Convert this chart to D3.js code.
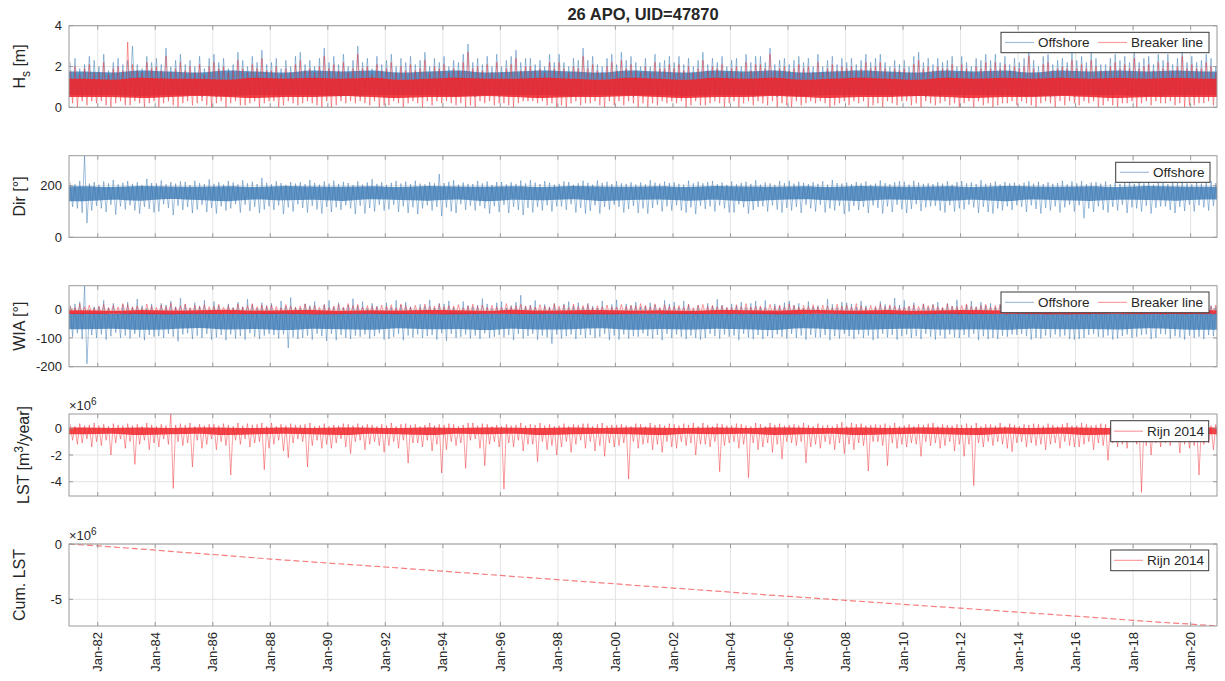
<!DOCTYPE html>
<html>
<head>
<meta charset="utf-8">
<script src="https://cdn.jsdelivr.net/npm/d3@7"></script>
<style>
  body { margin: 0; background: #fff; }
  text { font-family: "Liberation Sans", Arial, Helvetica, sans-serif; fill: #262626; }
</style>
</head>
<body>
<svg id="chart" width="1225" height="681"></svg>
<script>
// ---------------------------------------------------------------------------
// Data: two-monthly extremes (peak / trough, 6 per year, 1981-2020),
// yearly core bands (where most of the hourly samples sit) and the
// cumulative longshore transport at 1 January of each year.
// ---------------------------------------------------------------------------
const title = "26 APO, UID=47870";
const startYear = 1981;
const binsPerYear = 6;
const xTickYears = d3.range(1982, 2021, 2);
const xTickLabels = xTickYears.map(y => "Jan-" + String(y).slice(2));

// Significant wave height [m]
const hsOffPeak = [
2.2,2.4,1.9,2.1,2.5,2.3, 2.0,2.6,1.8,2.2,2.4,2.1, 2.3,3.0,2.1,1.9,2.5,2.2, 2.4,2.1,2.9,2.0,2.3,2.6,
2.1,2.3,2.0,2.5,1.9,2.4, 2.6,2.2,2.4,1.9,2.1,2.7, 2.3,2.0,2.5,2.2,2.8,2.1, 2.2,2.4,1.9,2.3,2.0,2.5,
2.7,2.1,2.3,2.0,2.4,2.9, 2.2,2.5,2.1,2.6,2.0,2.3, 3.0,2.2,2.4,1.9,2.5,2.1, 2.3,2.6,2.0,2.4,2.2,2.5,
2.1,2.3,2.7,2.0,2.4,2.2, 2.5,2.0,2.3,2.2,2.6,3.1, 2.2,2.4,2.1,2.5,2.0,2.6, 2.0,2.3,2.5,2.8,2.2,2.4,
2.4,2.1,2.3,2.0,2.6,2.2, 2.6,2.2,2.0,2.4,2.3,2.9, 2.3,2.5,2.1,2.0,2.4,2.6, 2.1,2.7,2.3,2.5,2.2,2.0,
2.4,2.0,2.6,2.2,2.3,2.5, 2.2,2.5,2.1,2.4,2.0,2.3, 2.7,2.1,2.4,2.2,2.5,2.0, 2.3,2.4,2.0,2.6,2.2,2.5,
2.5,2.2,2.9,2.1,2.3,2.4, 2.1,2.3,2.5,2.2,2.4,2.0, 2.6,2.0,2.3,2.5,2.1,2.4, 2.2,2.4,2.1,2.3,2.6,2.2,
2.4,2.6,2.2,2.0,2.3,2.1, 2.3,2.0,2.5,2.7,2.2,2.4, 2.1,2.4,2.2,2.3,2.5,2.0, 2.5,2.2,2.0,2.4,2.3,2.6,
2.3,2.6,2.2,2.5,2.1,2.4, 2.2,2.4,2.9,2.3,2.0,2.5, 2.6,2.1,2.3,2.4,2.2,2.7, 2.3,2.5,2.2,2.7,2.4,2.1,
2.1,2.4,2.6,2.3,2.5,2.2, 2.8,2.2,2.4,2.5,2.1,2.6, 2.3,2.6,2.1,2.4,2.9,2.2, 2.5,2.2,2.3,2.6,2.4,2.0];
const hsOffTrough = [
0.6,0.7,0.5,0.8,0.6,0.7, 0.5,0.6,0.8,0.7,0.6,0.5, 0.7,0.5,0.6,0.6,0.8,0.7, 0.6,0.8,0.5,0.7,0.6,0.6,
0.8,0.6,0.7,0.5,0.7,0.6, 0.5,0.7,0.6,0.8,0.5,0.7, 0.7,0.6,0.8,0.6,0.5,0.8, 0.6,0.5,0.7,0.7,0.6,0.5,
0.8,0.7,0.6,0.5,0.7,0.6, 0.6,0.6,0.5,0.8,0.7,0.7, 0.5,0.8,0.7,0.6,0.6,0.5, 0.7,0.6,0.6,0.7,0.8,0.6,
0.6,0.5,0.8,0.6,0.5,0.7, 0.8,0.7,0.5,0.7,0.6,0.6, 0.5,0.6,0.7,0.8,0.7,0.5, 0.7,0.8,0.6,0.5,0.6,0.7,
0.6,0.5,0.7,0.6,0.8,0.6, 0.7,0.6,0.5,0.7,0.6,0.8, 0.5,0.7,0.8,0.6,0.5,0.6, 0.8,0.6,0.6,0.5,0.7,0.7,
0.6,0.7,0.5,0.8,0.6,0.5, 0.7,0.5,0.6,0.6,0.8,0.7, 0.5,0.8,0.7,0.6,0.7,0.6, 0.6,0.6,0.8,0.7,0.5,0.6,
0.8,0.7,0.6,0.5,0.6,0.8, 0.7,0.5,0.6,0.7,0.8,0.6, 0.6,0.8,0.5,0.6,0.7,0.5, 0.5,0.6,0.7,0.8,0.6,0.7,
0.7,0.6,0.8,0.5,0.6,0.6, 0.6,0.7,0.6,0.7,0.5,0.8, 0.8,0.5,0.7,0.6,0.7,0.6, 0.5,0.7,0.6,0.8,0.6,0.5,
0.7,0.6,0.5,0.6,0.8,0.7, 0.6,0.8,0.7,0.5,0.6,0.6, 0.5,0.6,0.8,0.7,0.7,0.5, 0.8,0.7,0.6,0.6,0.5,0.7,
0.6,0.5,0.7,0.8,0.6,0.6, 0.7,0.6,0.5,0.6,0.8,0.5, 0.6,0.8,0.6,0.7,0.5,0.7, 0.5,0.7,0.8,0.6,0.6,0.6];
const hsOffCoreLo = [0.6,0.6,0.55,0.6,0.6,0.55,0.6,0.6,0.6,0.55,0.6,0.6,0.6,0.55,0.6,0.6,0.6,0.55,0.6,0.6,0.6,0.55,0.6,0.6,0.6,0.55,0.6,0.6,0.6,0.55,0.6,0.6,0.6,0.55,0.6,0.6,0.6,0.55,0.6,0.6];
const hsOffCoreHi = [1.75,1.7,1.8,1.75,1.7,1.8,1.75,1.7,1.8,1.75,1.8,1.7,1.75,1.8,1.7,1.75,1.8,1.75,1.7,1.8,1.75,1.7,1.8,1.75,1.8,1.7,1.75,1.8,1.75,1.7,1.8,1.75,1.8,1.7,1.8,1.75,1.8,1.75,1.8,1.75];
const hsBrkPeak = [
1.8,2.0,1.6,1.9,2.1,1.7, 1.7,2.2,1.6,1.9,2.0,1.8, 3.2,2.1,1.8,1.7,2.2,1.9, 2.0,1.8,2.5,1.7,1.9,2.2,
1.8,2.0,1.7,2.1,1.6,2.0, 2.2,1.9,2.0,1.7,1.8,2.3, 1.9,1.7,2.1,1.9,2.4,1.8, 1.8,2.0,1.6,1.9,1.7,2.1,
2.3,1.8,1.9,1.7,2.0,2.5, 1.9,2.1,1.8,2.2,1.7,1.9, 2.6,1.9,2.0,1.6,2.1,1.8, 1.9,2.2,1.7,2.0,1.8,2.1,
1.8,1.9,2.3,1.7,2.0,1.9, 2.1,1.7,1.9,1.8,2.2,2.7, 1.9,2.0,1.8,2.1,1.7,2.2, 1.7,1.9,2.1,2.4,1.8,2.0,
2.0,1.8,1.9,1.7,2.2,1.9, 2.2,1.9,1.7,2.0,1.9,2.5, 1.9,2.1,1.8,1.7,2.0,2.2, 1.8,2.3,1.9,2.1,1.8,1.7,
2.0,1.7,2.2,1.9,1.9,2.1, 1.9,2.1,1.8,2.0,1.7,1.9, 2.3,1.8,2.0,1.9,2.1,1.7, 1.9,2.0,1.7,2.2,1.8,2.1,
2.1,1.9,2.6,1.8,1.9,2.0, 1.8,1.9,2.1,1.9,2.0,1.7, 2.2,1.7,1.9,2.1,1.8,2.0, 1.9,2.0,1.8,1.9,2.2,1.9,
2.0,2.2,1.9,1.7,1.9,1.8, 1.9,1.7,2.1,2.3,1.9,2.0, 1.8,2.0,1.9,1.9,2.1,1.7, 2.1,1.9,1.7,2.0,1.9,2.2,
1.9,2.2,1.9,2.1,1.8,2.0, 1.9,2.0,2.5,1.9,1.7,2.1, 2.2,1.8,1.9,2.0,1.9,2.3, 1.9,2.1,1.9,2.3,2.0,1.8,
1.8,2.0,2.2,1.9,2.1,1.9, 2.4,1.9,2.0,2.1,1.8,2.2, 1.9,2.2,1.8,2.0,2.5,1.9, 2.1,1.9,1.9,2.2,2.0,1.7];
const hsBrkTrough = [
0.2,0.0,0.3,0.1,0.3,0.2, 0.3,0.1,0.0,0.2,0.3,0.1, 0.1,0.3,0.2,0.0,0.2,0.3, 0.0,0.2,0.3,0.1,0.0,0.2,
0.3,0.1,0.2,0.3,0.1,0.0, 0.2,0.3,0.0,0.2,0.3,0.1, 0.1,0.2,0.3,0.0,0.2,0.3, 0.3,0.0,0.1,0.3,0.2,0.1,
0.2,0.3,0.2,0.1,0.0,0.3, 0.0,0.1,0.3,0.2,0.3,0.2, 0.3,0.2,0.1,0.3,0.0,0.1, 0.1,0.3,0.2,0.0,0.2,0.3,
0.2,0.0,0.3,0.1,0.3,0.2, 0.3,0.2,0.1,0.2,0.0,0.1, 0.0,0.3,0.2,0.3,0.1,0.2, 0.2,0.1,0.0,0.2,0.3,0.3,
0.3,0.2,0.3,0.1,0.2,0.0, 0.1,0.0,0.2,0.3,0.1,0.2, 0.2,0.3,0.1,0.0,0.3,0.1, 0.3,0.1,0.3,0.2,0.0,0.2,
0.0,0.2,0.1,0.3,0.2,0.3, 0.2,0.3,0.0,0.1,0.3,0.1, 0.1,0.2,0.3,0.2,0.0,0.2, 0.3,0.0,0.2,0.3,0.1,0.3,
0.2,0.1,0.3,0.0,0.2,0.1, 0.0,0.3,0.1,0.2,0.3,0.2, 0.3,0.2,0.0,0.1,0.2,0.3, 0.1,0.3,0.2,0.3,0.0,0.1,
0.2,0.0,0.3,0.2,0.1,0.3, 0.3,0.1,0.2,0.0,0.3,0.2, 0.1,0.2,0.3,0.1,0.2,0.0, 0.2,0.3,0.0,0.3,0.1,0.2,
0.0,0.1,0.2,0.2,0.3,0.1, 0.3,0.2,0.1,0.0,0.2,0.3, 0.2,0.0,0.3,0.1,0.3,0.2, 0.1,0.3,0.2,0.3,0.0,0.1,
0.3,0.1,0.0,0.2,0.2,0.3, 0.0,0.2,0.3,0.1,0.3,0.2, 0.2,0.3,0.1,0.2,0.0,0.1, 0.1,0.2,0.2,0.3,0.1,0.3];
const hsBrkCoreLo = [0.5,0.5,0.45,0.5,0.55,0.5,0.45,0.5,0.5,0.55,0.5,0.45,0.5,0.5,0.55,0.5,0.45,0.5,0.5,0.55,0.5,0.45,0.5,0.5,0.55,0.5,0.45,0.5,0.5,0.55,0.5,0.45,0.5,0.5,0.55,0.5,0.45,0.5,0.5,0.5];
const hsBrkCoreHi = [1.4,1.35,1.45,1.4,1.4,1.35,1.45,1.4,1.45,1.4,1.45,1.35,1.4,1.45,1.4,1.4,1.45,1.4,1.35,1.45,1.4,1.35,1.45,1.4,1.45,1.35,1.4,1.45,1.4,1.35,1.45,1.4,1.45,1.4,1.45,1.4,1.45,1.4,1.45,1.4];

// Offshore wave direction [deg]
const dirPeak = [
212,206,218,316,208,214, 204,216,209,222,205,211, 218,207,213,203,226,210, 209,220,205,214,208,217,
215,203,219,210,206,224, 207,213,204,218,212,205, 221,209,215,206,230,211, 205,217,210,203,214,208,
213,206,222,211,204,216, 208,219,207,215,210,203, 216,204,212,225,207,213, 203,211,218,208,216,206,
219,208,205,214,209,245, 210,215,221,204,212,207, 206,218,209,216,203,214, 214,205,213,207,220,209,
222,212,206,218,211,204, 207,216,214,203,209,219, 211,204,220,210,215,206, 217,209,207,213,204,212,
205,221,212,208,216,210, 213,207,204,219,209,215, 209,214,218,206,212,203, 216,205,211,215,207,221,
204,212,209,203,218,210, 219,208,215,211,206,213, 207,217,204,222,210,208, 212,206,214,209,216,204,
208,220,210,205,213,217, 215,204,219,212,207,209, 206,213,208,217,204,214, 218,209,212,206,221,207,
210,216,205,214,209,212, 204,211,217,208,215,206, 213,207,210,219,205,216, 209,218,206,212,214,208,
216,205,213,207,210,220, 207,214,209,216,204,211, 212,206,218,210,215,209, 205,213,208,214,217,210];
const dirTrough = [
118,112,95,55,104,122, 112,98,126,88,120,108, 124,104,92,118,110,96, 100,128,114,86,122,106,
118,94,108,126,98,114, 92,120,104,112,128,96, 126,102,118,94,108,120, 106,124,90,116,100,128,
114,96,122,108,92,118, 98,116,106,124,112,90, 122,92,114,100,126,104, 108,126,98,120,94,116,
90,112,124,104,118,82, 116,100,94,128,106,122, 104,122,112,92,120,98, 126,94,118,106,86,114,
96,118,104,124,100,120, 120,106,128,96,114,92, 102,124,92,118,108,126, 118,96,110,122,94,112,
92,114,126,100,120,104, 124,104,96,116,90,122, 110,120,100,124,112,96, 96,128,116,92,106,118,
120,100,124,108,96,114, 104,118,94,126,112,100, 126,96,112,104,122,90, 100,122,106,118,94,124,
114,92,120,98,126,108, 94,110,128,102,116,120, 122,104,96,124,100,112, 108,126,116,94,118,98,
92,112,104,120,106,124, 118,98,124,110,92,114, 104,120,96,116,126,100, 124,74,112,98,120,106,
96,118,104,126,94,116, 112,100,122,92,114,120, 120,106,94,118,102,126, 100,124,116,104,122,110];
const dirCoreLo = [140,145,142,148,144,140,146,143,145,141,147,144,142,146,140,145,143,147,141,144,146,142,145,140,144,147,143,141,146,144,142,145,140,146,143,141,145,144,142,146];
const dirCoreHi = [198,195,199,197,196,198,195,199,197,196,198,195,199,197,196,198,195,199,197,196,198,195,199,197,196,198,195,199,197,196,198,195,199,197,196,198,195,199,197,196];

// Wave incidence angle [deg]
const wiaOffPeak = [
12,18,25,80,-2,8, 10,30,4,20,-5,15, 24,6,35,12,2,18, -4,20,14,28,8,38,
16,2,22,10,30,-2, 26,12,-6,18,6,24, 8,34,16,2,22,12, 20,-3,28,10,40,6,
4,18,12,26,-2,16, 30,8,22,4,14,36, 12,26,2,20,10,-4, 22,6,30,14,24,8,
-2,16,10,32,4,20, 18,28,6,-5,26,12, 8,14,36,18,2,22, 26,4,12,24,48,10,
14,30,-2,16,8,20, 2,18,26,10,22,6, 20,10,4,28,-3,16, 32,-4,18,12,24,8,
10,22,14,2,30,18, 24,6,28,16,-2,12, -6,20,10,34,14,4, 18,12,24,6,20,28,
6,30,-4,18,10,22, 28,14,20,2,26,8, 12,-2,34,16,6,24, 22,18,8,28,12,-4,
4,26,16,10,38,14, 30,8,22,-2,18,6, 16,24,4,20,10,32, -3,14,28,8,24,12,
20,6,16,30,2,18, 10,26,-4,14,22,8, 24,12,20,6,28,-2, 8,32,14,18,4,26,
18,2,24,12,30,10, 28,16,6,22,-4,20, 4,20,30,10,16,24, 14,8,22,26,12,6];
const wiaOffTrough = [
-96,-84,-104,-190,-90,-100, -88,-106,-94,-82,-100,-92, -102,-86,-98,-108,-90,-96, -94,-100,-86,-96,-112,-88,
-84,-104,-92,-100,-86,-106, -98,-90,-108,-88,-102,-94, -106,-84,-96,-104,-92,-86, -90,-102,-88,-135,-98,-104,
-100,-92,-106,-86,-94,-110, -86,-108,-90,-100,-104,-92, -96,-88,-102,-94,-84,-106, -104,-96,-86,-108,-92,-98,
-88,-100,-94,-90,-106,-84, -110,-86,-100,-96,-88,-102, -92,-104,-84,-100,-96,-90, -98,-90,-108,-86,-102,-94,
-86,-106,-92,-98,-120,-88, -102,-94,-88,-104,-90,-100, -90,-100,-96,-86,-108,-92, -106,-88,-102,-94,-96,-84,
-94,-102,-90,-108,-86,-100, -88,-96,-104,-92,-100,-106, -100,-86,-94,-102,-88,-96, -92,-108,-86,-98,-104,-90,
-104,-94,-100,-88,-96,-102, -86,-100,-92,-106,-90,-98, -98,-90,-108,-94,-102,-86, -94,-104,-88,-100,-92,-108,
-102,-86,-98,-90,-106,-94, -88,-100,-94,-104,-86,-96, -106,-92,-102,-88,-98,-100, -90,-98,-86,-108,-94,-104,
-100,-104,-92,-96,-88,-90, -86,-94,-106,-100,-102,-92, -98,-88,-96,-92,-104,-106, -104,-100,-90,-86,-96,-98,
-92,-106,-102,-94,-88,-100, -96,-90,-88,-104,-100,-86, -88,-102,-94,-98,-106,-92, -100,-96,-104,-90,-94,-108];
const wiaOffCoreLo = [-70,-68,-72,-70,-66,-71,-69,-73,-68,-70,-72,-67,-70,-69,-73,-68,-71,-70,-67,-72,-69,-71,-68,-70,-73,-67,-70,-72,-69,-68,-71,-70,-72,-68,-70,-69,-71,-67,-70,-72];
const wiaOffCoreHi = [-14,-16,-12,-15,-13,-17,-14,-12,-16,-15,-13,-14,-17,-12,-15,-16,-13,-14,-12,-16,-15,-13,-17,-14,-12,-16,-15,-13,-14,-17,-12,-15,-16,-13,-14,-12,-16,-15,-13,-14];
const wiaBrkPeak = [
12,6,18,8,14,4, 9,16,5,13,7,19, 15,8,11,4,17,10, 6,14,9,20,7,12,
18,5,13,9,15,8, 10,16,6,12,4,17, 7,12,19,8,14,10, 14,9,5,16,11,6,
11,18,8,13,6,15, 5,10,16,7,19,12, 16,7,12,10,8,14, 9,15,4,18,12,7,
13,6,17,9,10,16, 8,12,10,15,5,11, 17,9,14,6,13,8, 6,19,8,12,16,10,
12,7,15,10,6,18, 10,14,6,17,9,12, 15,5,12,8,14,7, 7,16,10,13,11,19,
13,8,18,6,15,9, 9,12,7,16,5,14, 16,10,13,8,12,6, 5,15,9,19,7,11,
11,6,16,10,14,8, 18,12,7,13,9,15, 8,14,11,5,17,10, 14,7,19,12,6,13,
10,16,8,15,11,5, 6,11,14,9,18,12, 15,9,6,17,10,8, 12,18,10,7,13,16,
7,13,15,11,5,10, 16,6,12,14,9,18, 9,15,8,6,16,11, 13,10,17,12,7,14,
5,12,9,16,13,8, 17,8,14,10,11,6, 11,16,6,13,19,9, 8,12,15,7,10,14];
const wiaBrkTrough = [
-19,-18,-20,-17,-19,-18, -18,-20,-17,-19,-18,-20, -20,-17,-19,-18,-20,-18, -17,-19,-18,-20,-17,-19,
-19,-18,-20,-18,-19,-17, -18,-20,-17,-19,-18,-20, -20,-18,-19,-17,-20,-18, -17,-19,-18,-20,-19,-17,
-19,-17,-20,-18,-17,-19, -18,-20,-19,-17,-20,-18, -20,-18,-17,-19,-18,-20, -17,-19,-20,-18,-19,-17,
-19,-18,-18,-20,-17,-19, -18,-20,-17,-19,-20,-18, -20,-17,-19,-18,-18,-20, -17,-19,-18,-20,-19,-17,
-19,-18,-20,-17,-18,-19, -18,-20,-19,-18,-17,-20, -20,-17,-18,-19,-20,-18, -17,-19,-20,-18,-19,-17,
-19,-18,-17,-20,-18,-19, -18,-20,-19,-17,-20,-18, -20,-18,-18,-19,-17,-20, -17,-19,-20,-18,-19,-18,
-19,-17,-18,-20,-18,-19, -18,-20,-19,-17,-20,-17, -20,-18,-17,-19,-18,-20, -17,-19,-20,-18,-19,-18,
-19,-18,-18,-20,-17,-19, -18,-20,-19,-17,-20,-18, -20,-17,-18,-19,-18,-20, -17,-19,-20,-18,-19,-17,
-19,-18,-17,-20,-18,-19, -18,-20,-19,-18,-17,-20, -20,-18,-18,-19,-20,-17, -17,-19,-20,-17,-19,-18,
-19,-17,-18,-20,-18,-19, -18,-20,-19,-18,-17,-20, -20,-18,-17,-19,-20,-18, -17,-19,-20,-18,-19,-18];
const wiaBrkCoreLo = [-17,-16,-17,-18,-16,-17,-17,-16,-18,-17,-16,-17,-17,-18,-16,-17,-16,-17,-18,-17,-16,-17,-17,-16,-18,-17,-16,-17,-17,-18,-16,-17,-16,-17,-18,-17,-16,-17,-17,-16];
const wiaBrkCoreHi = [-4,-6,-3,-5,-4,-2,-5,-4,-3,-6,-4,-5,-3,-4,-6,-2,-5,-4,-3,-5,-4,-6,-3,-4,-5,-2,-4,-5,-3,-6,-4,-3,-5,-4,-2,-5,-3,-4,-6,-4];

// Longshore sediment transport, Rijn 2014 [10^6 m^3/year]
const lstPeak = [
0.3,0.15,0.35,0.2,0.25,0.4, 0.2,0.3,0.15,0.35,0.25,0.2, 0.35,0.2,0.3,0.15,0.4,0.25, 0.15,0.3,0.2,1.07,0.25,0.35,
0.25,0.4,0.15,0.3,0.2,0.3, 0.3,0.2,0.35,0.25,0.15,0.4, 0.2,0.35,0.25,0.3,0.4,0.15, 0.4,0.15,0.3,0.2,0.35,0.25,
0.25,0.3,0.4,0.15,0.2,0.35, 0.15,0.25,0.2,0.35,0.3,0.2, 0.35,0.2,0.3,0.25,0.15,0.3, 0.2,0.4,0.15,0.3,0.35,0.25,
0.3,0.15,0.25,0.4,0.2,0.3, 0.25,0.35,0.3,0.15,0.25,0.4, 0.4,0.2,0.35,0.3,0.15,0.25, 0.15,0.3,0.2,0.25,0.4,0.2,
0.3,0.25,0.4,0.2,0.3,0.15, 0.2,0.35,0.15,0.3,0.25,0.35, 0.35,0.15,0.3,0.4,0.2,0.25, 0.25,0.3,0.2,0.15,0.35,0.3,
0.15,0.4,0.25,0.3,0.2,0.35, 0.3,0.2,0.35,0.25,0.4,0.15, 0.4,0.25,0.15,0.35,0.3,0.2, 0.2,0.35,0.3,0.2,0.15,0.4,
0.3,0.15,0.4,0.25,0.35,0.2, 0.25,0.3,0.2,0.4,0.25,0.15, 0.35,0.2,0.25,0.15,0.3,0.45, 0.15,0.4,0.3,0.35,0.2,0.25,
0.3,0.25,0.35,0.2,0.4,0.15, 0.2,0.3,0.15,0.3,0.25,0.35, 0.4,0.15,0.3,0.25,0.2,0.3, 0.25,0.35,0.2,0.4,0.15,0.3,
0.3,0.2,0.4,0.15,0.35,0.25, 0.15,0.3,0.25,0.35,0.3,0.2, 0.35,0.25,0.15,0.3,0.4,0.2, 0.2,0.4,0.3,0.2,0.25,0.35,
0.3,0.15,0.35,0.25,0.2,0.4, 0.25,0.3,0.2,0.4,0.3,0.15, 0.4,0.2,0.3,0.15,0.35,0.25, 0.15,0.35,0.25,0.3,0.2,0.3];
const lstTrough = [
-0.9,-1.2,-1.1,-0.8,-1.4,-1.0, -1.3,-0.9,-2.0,-1.1,-0.8,-1.5, -1.0,-2.7,-1.2,-0.9,-1.6,-1.1, -1.4,-0.8,-1.2,-4.5,-1.0,-1.3,
-1.1,-2.9,-0.9,-1.5,-1.2,-0.8, -1.6,-1.0,-1.3,-3.5,-0.9,-1.2, -0.8,-1.4,-1.1,-1.0,-3.1,-1.5, -1.2,-0.9,-1.7,-2.2,-1.1,-0.8,
-1.0,-2.9,-1.3,-0.9,-1.5,-1.2, -1.5,-1.1,-0.8,-1.4,-1.9,-1.0, -0.9,-1.6,-1.2,-1.0,-1.3,-1.8, -1.3,-1.0,-1.5,-0.9,-2.6,-1.1,
-1.1,-1.4,-0.9,-1.7,-1.2,-3.35, -1.6,-1.0,-1.3,-1.1,-3.0,-0.9, -0.8,-1.5,-2.8,-1.2,-1.0,-1.4, -4.55,-1.1,-1.4,-0.9,-1.7,-1.2,
-1.2,-2.5,-1.0,-1.6,-1.3,-2.0, -1.4,-1.0,-1.8,-1.2,-0.9,-1.5, -1.0,-1.7,-1.3,-2.1,-1.1,-1.4, -1.3,-1.1,-3.8,-1.0,-1.5,-1.2,
-1.1,-1.6,-1.2,-1.8,-1.0,-1.4, -1.5,-1.0,-1.3,-1.1,-2.0,-1.2, -1.2,-1.4,-1.0,-3.25,-1.3,-1.1, -1.0,-1.5,-1.2,-3.7,-1.1,-1.6,
-1.4,-1.1,-1.8,-1.2,-2.3,-1.0, -1.1,-1.3,-1.0,-2.6,-1.4,-1.2, -1.5,-1.0,-1.2,-1.6,-1.1,-1.9, -1.2,-1.6,-1.1,-1.3,-3.2,-1.0,
-1.0,-1.3,-2.8,-1.1,-1.5,-1.2, -1.4,-1.1,-1.2,-2.1,-1.0,-1.3, -1.1,-1.5,-1.3,-1.0,-1.7,-1.2, -2.1,-1.2,-4.3,-1.1,-1.4,-1.0,
-1.3,-1.0,-1.2,-1.5,-1.75,-1.1, -1.0,-1.4,-1.1,-1.3,-1.2,-1.6, -1.2,-1.1,-1.5,-1.0,-1.3,-1.4, -1.4,-1.2,-1.0,-1.6,-1.1,-1.3,
-2.4,-1.1,-1.4,-1.2,-1.5,-1.0, -1.2,-4.8,-1.3,-2.0,-1.1,-1.4, -1.1,-1.3,-1.0,-1.85,-1.2,-1.5, -1.3,-3.5,-1.2,-1.1,-1.6,-1.4];
const lstCoreLo = [-0.45,-0.4,-0.5,-0.45,-0.4,-0.5,-0.45,-0.4,-0.45,-0.5,-0.4,-0.45,-0.5,-0.4,-0.45,-0.4,-0.5,-0.45,-0.4,-0.45,-0.5,-0.4,-0.45,-0.4,-0.5,-0.45,-0.4,-0.5,-0.45,-0.4,-0.45,-0.5,-0.4,-0.45,-0.4,-0.5,-0.45,-0.4,-0.5,-0.45];
const lstCoreHi = [0.05,0.02,0.06,0.03,0.05,0.04,0.02,0.06,0.03,0.05,0.04,0.02,0.06,0.03,0.05,0.04,0.02,0.06,0.03,0.05,0.04,0.02,0.06,0.03,0.05,0.04,0.02,0.06,0.03,0.05,0.04,0.02,0.06,0.03,0.05,0.04,0.02,0.06,0.03,0.05];

// Cumulative LST [10^6 m^3] at 1 January of each year (last value = end of record)
const cumYears = d3.range(1981, 2021).concat([2020.92]);
const cumLst = [0,-0.17,-0.36,-0.55,-0.76,-0.95,-1.15,-1.36,-1.54,-1.72,-1.90,-2.08,-2.27,-2.46,-2.65,-2.84,-3.04,-3.22,-3.41,-3.60,-3.80,-3.98,-4.16,-4.35,-4.55,-4.73,-4.91,-5.09,-5.27,-5.45,-5.63,-5.80,-5.98,-6.16,-6.34,-6.52,-6.70,-6.90,-7.08,-7.24,-7.41];

// ---------------------------------------------------------------------------
const BLUE = "#2f72b0";
const RED = "#f0262c";
const svg = d3.select("#chart");

function toDate(dec) {
  const y = Math.floor(dec);
  const a = new Date(y, 0, 1), b = new Date(y + 1, 0, 1);
  return new Date(+a + (dec - y) * (b - a));
}

const plotLeft = 69, plotRight = 1217;
const x = d3.scaleTime()
  .domain([new Date(1981, 0, 1), new Date(2020, 11, 1)])
  .range([plotLeft, plotRight]);

function corePoints(lo, hi) {
  const pts = [[startYear, lo[0], hi[0]]];
  lo.forEach((v, i) => pts.push([startYear + i + 0.5, v, hi[i]]));
  pts.push([startYear + lo.length, lo[lo.length - 1], hi[hi.length - 1]]);
  return pts;
}

// Trace alternating between each bin's peak and trough.
function tracePoints(peaks, troughs) {
  const bin = 1 / binsPerYear;
  const pts = [];
  peaks.forEach((p, i) => {
    const t0 = startYear + i * bin;
    pts.push([t0 + bin * 0.25, p]);
    pts.push([t0 + bin * 0.75, troughs[i]]);
  });
  return pts;
}

const panels = [
  {
    top: 25.7, bottom: 107.3, domain: [0, 4], ticks: [0, 2, 4],
    label: [["H", null], ["s", "sub"], [" [m]", null]], labelX: 25,
    bands: [
      { peak: hsOffPeak, trough: hsOffTrough, lo: hsOffCoreLo, hi: hsOffCoreHi, color: BLUE, core: 0.75 },
      { peak: hsBrkPeak, trough: hsBrkTrough, lo: hsBrkCoreLo, hi: hsBrkCoreHi, color: RED, core: 0.88 }
    ],
    legend: { x: 1001, y: 32.3, w: 208, h: 20.4,
      items: [{ name: "Offshore", color: BLUE, lx: 1005 }, { name: "Breaker line", color: RED, lx: 1098 }] }
  },
  {
    top: 155.7, bottom: 237.3, domain: [0, 316], ticks: [0, 200],
    label: [["Dir [°]", null]], labelX: 25,
    bands: [{ peak: dirPeak, trough: dirTrough, lo: dirCoreLo, hi: dirCoreHi, color: BLUE, core: 0.75 }],
    legend: { x: 1115.7, y: 162.3, w: 94.3, h: 20,
      items: [{ name: "Offshore", color: BLUE, lx: 1120 }] }
  },
  {
    top: 285.7, bottom: 366.7, domain: [-200, 81], ticks: [-200, -100, 0],
    label: [["WIA [°]", null]], labelX: 25,
    bands: [
      { peak: wiaOffPeak, trough: wiaOffTrough, lo: wiaOffCoreLo, hi: wiaOffCoreHi, color: BLUE, core: 0.75 },
      { peak: wiaBrkPeak, trough: wiaBrkTrough, lo: wiaBrkCoreLo, hi: wiaBrkCoreHi, color: RED, core: 0.88 }
    ],
    legend: { x: 1001, y: 292, w: 208, h: 20.7,
      items: [{ name: "Offshore", color: BLUE, lx: 1005 }, { name: "Breaker line", color: RED, lx: 1098 }] }
  },
  {
    top: 414, bottom: 496, domain: [-5.07, 1.07], ticks: [-4, -2, 0],
    label: [["LST [m", null], ["3", "super"], ["/year]", null]], labelX: 29, exponent: true,
    bands: [{ peak: lstPeak, trough: lstTrough, lo: lstCoreLo, hi: lstCoreHi, color: RED, core: 0.85 }],
    legend: { x: 1110.7, y: 420.7, w: 98, h: 21,
      items: [{ name: "Rijn 2014", color: RED, lx: 1114 }] }
  },
  {
    top: 544, bottom: 626, domain: [-7.41, 0], ticks: [-5, 0],
    label: [["Cum. LST", null]], labelX: 25, exponent: true,
    cum: { years: cumYears, values: cumLst, color: RED },
    legend: { x: 1110.7, y: 550, w: 98, h: 20.7,
      items: [{ name: "Rijn 2014", color: RED, lx: 1114 }] },
    xLabels: true
  }
];

// Title
svg.append("text")
  .attr("x", (plotLeft + plotRight) / 2).attr("y", 20)
  .attr("text-anchor", "middle")
  .style("font-size", "16.5px").style("font-weight", "bold")
  .text(title);

panels.forEach((p, pi) => {
  const y = d3.scaleLinear().domain(p.domain).range([p.bottom, p.top]);
  const g = svg.append("g");
  const clipId = "clip" + pi;
  svg.append("clipPath").attr("id", clipId).append("rect")
    .attr("x", plotLeft).attr("y", p.top)
    .attr("width", plotRight - plotLeft).attr("height", p.bottom - p.top);

  // grid
  const grid = g.append("g").attr("stroke", "#e3e3e3").attr("stroke-width", 1);
  xTickYears.forEach(yr => {
    const xx = x(new Date(yr, 0, 1));
    grid.append("line").attr("x1", xx).attr("x2", xx).attr("y1", p.top).attr("y2", p.bottom);
  });
  p.ticks.forEach(t => {
    const yy = y(t);
    grid.append("line").attr("x1", plotLeft).attr("x2", plotRight).attr("y1", yy).attr("y2", yy);
  });

  const data = g.append("g").attr("clip-path", `url(#${clipId})`);
  (p.bands || []).forEach(b => {
    data.append("path")
      .attr("d", d3.line().x(d => x(toDate(d[0]))).y(d => y(d[1]))(tracePoints(b.peak, b.trough)))
      .attr("fill", "none").attr("stroke", b.color).attr("stroke-width", 0.9)
      .attr("stroke-opacity", 0.5).attr("stroke-linejoin", "miter");
    data.append("path")
      .attr("d", d3.area().curve(d3.curveMonotoneX)
        .x(d => x(toDate(d[0]))).y0(d => y(d[1])).y1(d => y(d[2]))(corePoints(b.lo, b.hi)))
      .attr("fill", b.color).attr("fill-opacity", b.core);
  });
  if (p.cum) {
    data.append("path")
      .attr("d", d3.line().x((d, i) => x(toDate(p.cum.years[i]))).y(d => y(d))(p.cum.values))
      .attr("fill", "none").attr("stroke", p.cum.color).attr("stroke-opacity", 0.6)
      .attr("stroke-width", 1.2).attr("stroke-dasharray", "6,3");
  }

  // axes box and tick marks
  const ax = g.append("g").attr("stroke", "#9a9a9a").attr("fill", "none");
  ax.append("rect").attr("x", plotLeft).attr("y", p.top)
    .attr("width", plotRight - plotLeft).attr("height", p.bottom - p.top);
  xTickYears.forEach(yr => {
    const xx = x(new Date(yr, 0, 1));
    ax.append("line").attr("x1", xx).attr("x2", xx).attr("y1", p.bottom).attr("y2", p.bottom - 4);
    ax.append("line").attr("x1", xx).attr("x2", xx).attr("y1", p.top).attr("y2", p.top + 4);
  });
  p.ticks.forEach(t => {
    const yy = y(t);
    ax.append("line").attr("x1", plotLeft).attr("x2", plotLeft + 4).attr("y1", yy).attr("y2", yy);
    ax.append("line").attr("x1", plotRight).attr("x2", plotRight - 4).attr("y1", yy).attr("y2", yy);
  });

  // y tick labels
  p.ticks.forEach(t => {
    g.append("text").attr("x", plotLeft - 7).attr("y", y(t)).attr("dy", "0.36em")
      .attr("text-anchor", "end").style("font-size", "13px").text(t);
  });

  // exponent marker
  if (p.exponent) {
    const e = g.append("text").attr("x", plotLeft).attr("y", p.top - 4).style("font-size", "13px");
    e.append("tspan").text("×10");
    e.append("tspan").attr("dy", "-5").style("font-size", "10px").text("6");
  }

  // y label (with optional sub/superscript parts)
  const mid = (p.top + p.bottom) / 2;
  const lab = g.append("text")
    .attr("transform", `translate(${p.labelX},${mid}) rotate(-90)`)
    .attr("text-anchor", "middle").style("font-size", "16px");
  let shiftNow = 0;
  p.label.forEach(([txt, kind]) => {
    const target = kind === "sub" ? 5 : kind === "super" ? -6 : 0;
    const ts = lab.append("tspan").text(txt).attr("dy", target - shiftNow);
    if (kind) ts.style("font-size", "12px");
    shiftNow = target;
  });

  // x tick labels (bottom panel only)
  if (p.xLabels) {
    xTickYears.forEach((yr, i) => {
      const xx = x(new Date(yr, 0, 1));
      g.append("text")
        .attr("transform", `translate(${xx},${p.bottom + 6}) rotate(-90)`)
        .attr("text-anchor", "end").attr("dy", "0.35em")
        .style("font-size", "13px").text(xTickLabels[i]);
    });
  }

  // legend
  const L = p.legend;
  const lg = g.append("g");
  lg.append("rect").attr("x", L.x).attr("y", L.y).attr("width", L.w).attr("height", L.h)
    .attr("fill", "#fff").attr("stroke", "#3a3a3a").attr("stroke-width", 1);
  L.items.forEach(it => {
    const cy = L.y + L.h / 2;
    lg.append("line").attr("x1", it.lx).attr("x2", it.lx + 29).attr("y1", cy).attr("y2", cy)
      .attr("stroke", it.color).attr("stroke-opacity", 0.45).attr("stroke-width", 1.2);
    lg.append("text").attr("x", it.lx + 33).attr("y", cy).attr("dy", "0.36em")
      .style("font-size", "13.5px").text(it.name);
  });
});
</script>
</body>
</html>
